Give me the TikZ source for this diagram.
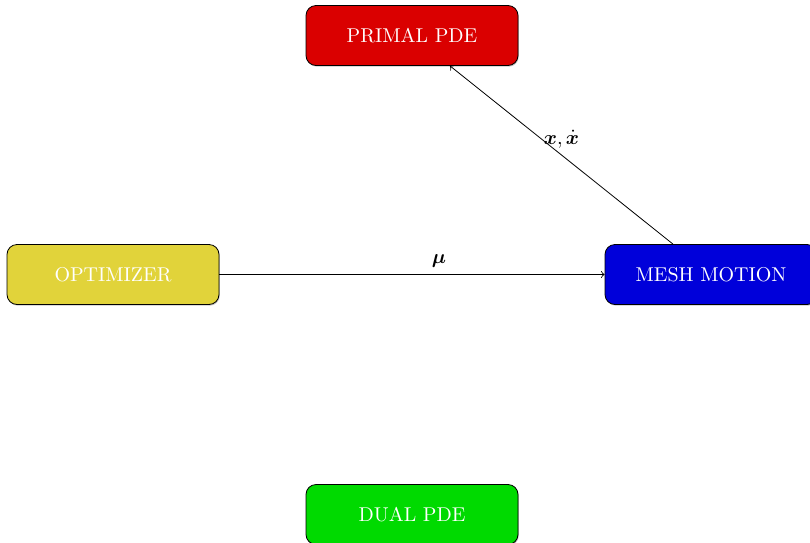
\documentclass[tikz,border=0pt]{standalone}
\usepackage{amsmath,bm}
\usetikzlibrary{shadows}
\definecolor{primalred}{RGB}{218,0,0}
\definecolor{optyellow}{RGB}{225,211,58}
\definecolor{meshblue}{RGB}{0,0,218}
\definecolor{dualgreen}{RGB}{0,218,0}
\tikzset{
  block/.style={draw=black, rounded corners=5pt, text=white,
    minimum width=106pt, minimum height=30pt, font=\normalsize,
    drop shadow={shadow xshift=0.4pt, shadow yshift=-0.6pt, opacity=0.45}},
  flow/.style={->, line width=0.4pt}
}
\begin{document}
\begin{tikzpicture}[x=0.5pt, y=-0.5pt]
  \useasboundingbox (0,0) rectangle (810,542);
  \node[block, fill=primalred]  (primal) at (412,35.5)  {PRIMAL PDE};
  \node[block, fill=optyellow]  (opt)    at (113,274.5) {OPTIMIZER};
  \node[block, fill=meshblue]   (mesh)   at (711,274.5) {MESH MOTION};
  \node[block, fill=dualgreen]  (dual)   at (412,514.5) {DUAL PDE};
  \draw[flow] (opt) -- node[above, pos=0.57] {$\bm{\mu}$} (mesh);
  \draw[flow] (mesh) -- node[above, pos=0.5] {$\bm{x},\dot{\bm{x}}$} (primal);
\end{tikzpicture}
\end{document}
